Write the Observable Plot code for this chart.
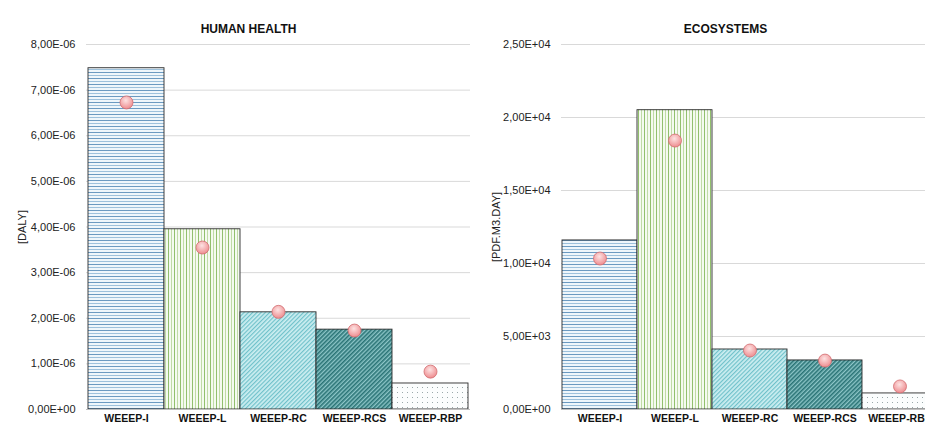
<!DOCTYPE html>
<html><head><meta charset="utf-8">
<script src="https://cdn.jsdelivr.net/npm/d3@7"></script>
<script src="https://cdn.jsdelivr.net/npm/@observablehq/plot@0.6"></script>
<style>
body{margin:0;background:#fff;}
#wrap{position:relative;width:925px;height:427px;overflow:hidden;background:#fff;}
#left{position:absolute;left:0;top:0;width:470px;}
#right{position:absolute;left:470px;top:0;width:467px;}
#wrap svg{max-width:none !important;}
</style></head><body>
<svg width="0" height="0" style="position:absolute">
<defs>
<pattern id="pI" patternUnits="userSpaceOnUse" width="8" height="6">
  <rect width="8" height="6" fill="#eef6fb"/>
  <rect y="0" width="8" height="1" fill="#6b9ac1"/>
  <rect y="3" width="8" height="1" fill="#9dc1dc"/>
</pattern>
<pattern id="pL" patternUnits="userSpaceOnUse" width="6" height="8">
  <rect width="6" height="8" fill="#f5faf0"/>
  <rect x="0" width="1" height="8" fill="#92bf6e"/>
  <rect x="3" width="1" height="8" fill="#c0dba6"/>
</pattern>
<pattern id="pRC" patternUnits="userSpaceOnUse" width="3" height="3" patternTransform="rotate(45)">
  <rect width="3" height="3" fill="#cdeef1"/>
  <rect x="0" width="1.2" height="3" fill="#6fc1ca"/>
</pattern>
<pattern id="pRCS" patternUnits="userSpaceOnUse" width="3" height="3" patternTransform="rotate(45)">
  <rect width="3" height="3" fill="#8cc5c7"/>
  <rect x="0" width="1.6" height="3" fill="#2a7476"/>
</pattern>
<pattern id="pRBP" patternUnits="userSpaceOnUse" width="5" height="5">
  <rect width="5" height="5" fill="#fbfdfd"/>
  <rect x="2" y="2" width="1" height="1" fill="#9aa8aa"/>
</pattern>
<radialGradient id="gDot" cx="45%" cy="35%" r="65%">
  <stop offset="0" stop-color="#fde2e2"/>
  <stop offset="1" stop-color="#ee8c8f"/>
</radialGradient>
</defs></svg>
<div id="wrap"><div id="left"></div><div id="right"></div></div>
<script>
// ---- data ----
const categoriesHH = ["WEEEP-I", "WEEEP-L", "WEEEP-RC", "WEEEP-RCS", "WEEEP-RBP"];
const barsHH = [7.48e-6, 3.95e-6, 2.13e-6, 1.75e-6, 0.57e-6];
const dotsHH = [6.73e-6, 3.55e-6, 2.14e-6, 1.73e-6, 0.83e-6];
const ticksHH = [0, 1e-6, 2e-6, 3e-6, 4e-6, 5e-6, 6e-6, 7e-6, 8e-6];

const categoriesEco = ["WEEEP-I", "WEEEP-L", "WEEEP-RC", "WEEEP-RCS", "WEEEP-RBP"];
const barsEco = [11580, 20500, 4110, 3360, 1100];
const dotsEco = [10340, 18420, 4040, 3350, 1580];
const ticksEco = [0, 5000, 10000, 15000, 20000, 25000];

const patterns = ["pI", "pL", "pRC", "pRCS", "pRBP"];

function fmt(d) {
  const [m, e] = d.toExponential(2).split("e");
  const sign = e[0] === "-" ? "-" : "+";
  const ex = e.replace(/^[+-]/, "").padStart(2, "0");
  return m.replace(".", ",") + "E" + sign + ex;
}

function panel({cats, bars, dots, ticks, yLabel, title, width, marginLeft, titleDx, labelOffset}) {
  const data = cats.map((c, i) => ({cat: c, bar: bars[i], dot: dots[i], pat: patterns[i]}));
  const barMarks = data.map((d, i) =>
    Plot.barY(data.filter((_, j) => j === i), {
      x: "cat", y: "bar", fill: `url(#${d.pat})`, stroke: "#2b2b2b", strokeWidth: 0.9
    })
  );
  return Plot.plot({
    width, height: 427,
    marginLeft, marginRight: 0, marginTop: 44, marginBottom: 18,
    style: {fontFamily: "'Liberation Sans', Arial, sans-serif", fontSize: "11px", background: "#fff", color: "#222"},
    x: {domain: cats, padding: 0},
    y: {domain: [ticks[0], ticks[ticks.length - 1]]},
    marks: [
      Plot.gridY(ticks, {stroke: "#d9d9d9", strokeOpacity: 1}),
      ...barMarks,
      Plot.ruleY([0], {stroke: "#bfbfbf"}),
      Plot.dot(data, {x: "cat", y: "dot", r: 6.5, fill: "url(#gDot)", stroke: "#d26c70", strokeWidth: 0.8}),
      Plot.axisX({tickSize: 0, tickPadding: 5, fontWeight: "bold", fontSize: 10.5, label: null, fill: "#111"}),
      Plot.axisY({ticks, tickFormat: fmt, tickSize: 0, tickPadding: 11, fontSize: 11, label: yLabel,
        labelAnchor: "center", labelArrow: "none", labelOffset}),
      Plot.text([title], {frameAnchor: "top", dy: -20, dx: titleDx, fontWeight: "bold", fontSize: 12, fill: "#111"})
    ]
  });
}

document.getElementById("left").append(panel({
  cats: categoriesHH, bars: barsHH, dots: dotsHH, ticks: ticksHH,
  yLabel: "[DALY]", title: "HUMAN HEALTH", width: 470, marginLeft: 86, titleDx: -30, labelOffset: 68
}));
document.getElementById("right").append(panel({
  cats: categoriesEco, bars: barsEco, dots: dotsEco, ticks: ticksEco,
  yLabel: "[PDF.M3.DAY]", title: "ECOSYSTEMS", width: 467, marginLeft: 91, titleDx: -24, labelOffset: 69
}));
</script>
</body></html>
